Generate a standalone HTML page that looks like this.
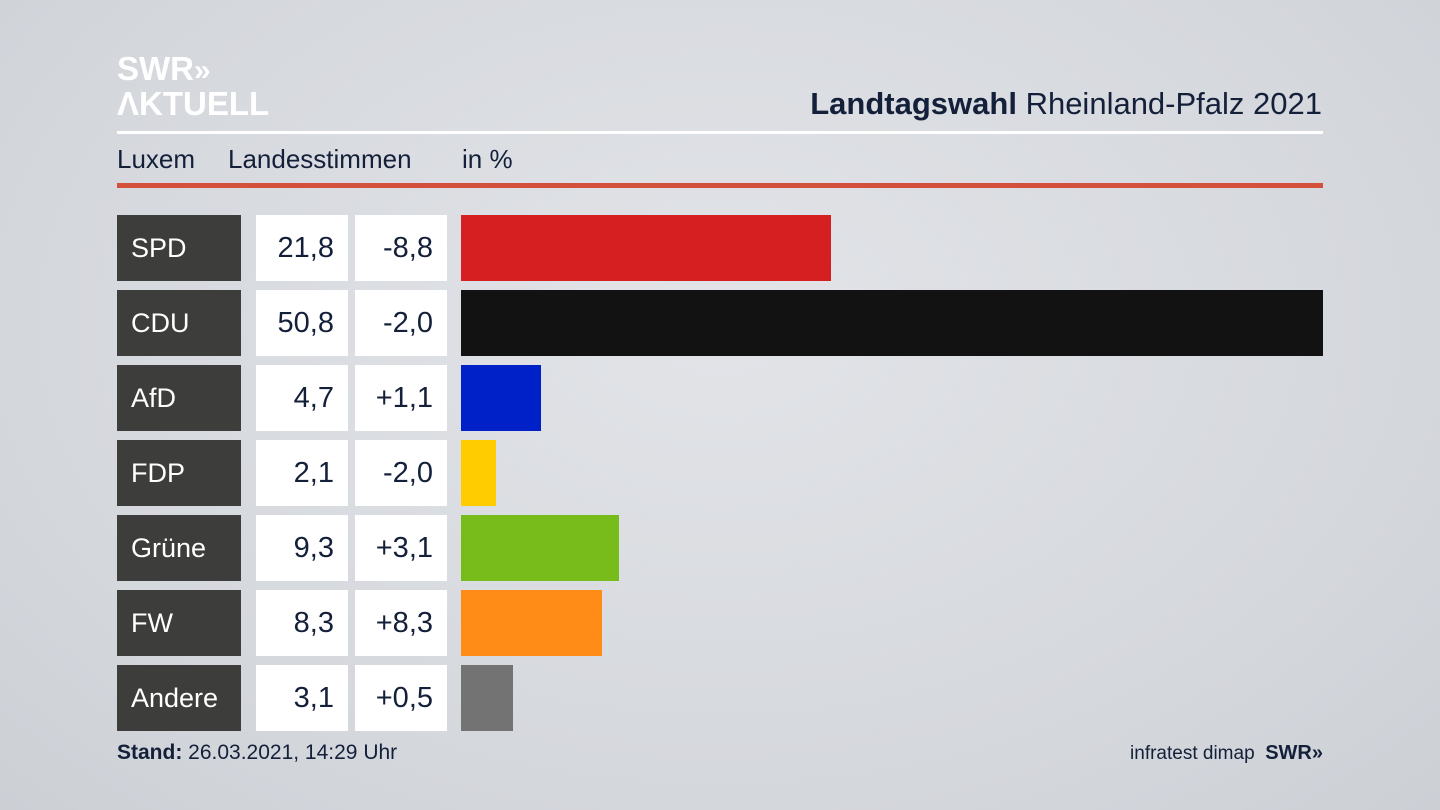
<!DOCTYPE html>
<html><head><meta charset="utf-8"><style>
body{margin:0;width:1440px;height:810px;overflow:hidden;background:radial-gradient(ellipse at 50% 40%,#e2e4e8 0%,#d4d7dc 70%,#ccd0d5 100%);font-family:"Liberation Sans",sans-serif;position:relative}
.a{position:absolute}
.lab{position:absolute;left:117px;width:124px;height:66px;background:#3d3d3c;color:#fff;font-size:27px;line-height:66px;box-sizing:border-box;padding-left:14px}
.v{position:absolute;height:66px;background:#fff;color:#14203a;font-size:29px;line-height:66px;text-align:right;box-sizing:border-box;padding-right:14px;width:92px}
.bar{position:absolute;left:461px;height:66px}
.s{position:absolute;top:144px;color:#14203a;font-size:26px}
</style></head><body>
<div class="a" style="left:117px;top:52px;color:#fff;font-weight:bold;font-size:33px;line-height:33px;letter-spacing:0px">SWR<span style="font-size:30px">»</span><br>ΛKTUELL</div>
<div class="a" style="right:118px;top:86px;color:#14203a;font-size:31px"><b>Landtagswahl</b> Rheinland-Pfalz 2021</div>
<div class="a" style="left:117px;top:131px;width:1206px;height:3px;background:#fff"></div>
<div class="s" style="left:117px">Luxem</div>
<div class="s" style="left:228px">Landesstimmen</div>
<div class="s" style="left:462px">in %</div>
<div class="a" style="left:117px;top:183px;width:1206px;height:5px;background:#d2503c"></div>

<div class="lab" style="top:215px">SPD</div><div class="v" style="left:256px;top:215px">21,8</div><div class="v" style="left:355px;top:215px">-8,8</div><div class="bar" style="top:215px;width:370px;background:#d51f20"></div>
<div class="lab" style="top:290px">CDU</div><div class="v" style="left:256px;top:290px">50,8</div><div class="v" style="left:355px;top:290px">-2,0</div><div class="bar" style="top:290px;width:862px;background:#121212"></div>
<div class="lab" style="top:365px">AfD</div><div class="v" style="left:256px;top:365px">4,7</div><div class="v" style="left:355px;top:365px">+1,1</div><div class="bar" style="top:365px;width:80px;background:#0020c8"></div>
<div class="lab" style="top:440px">FDP</div><div class="v" style="left:256px;top:440px">2,1</div><div class="v" style="left:355px;top:440px">-2,0</div><div class="bar" style="top:440px;width:35px;background:#ffcc00"></div>
<div class="lab" style="top:515px">Grüne</div><div class="v" style="left:256px;top:515px">9,3</div><div class="v" style="left:355px;top:515px">+3,1</div><div class="bar" style="top:515px;width:158px;background:#78bc1b"></div>
<div class="lab" style="top:590px">FW</div><div class="v" style="left:256px;top:590px">8,3</div><div class="v" style="left:355px;top:590px">+8,3</div><div class="bar" style="top:590px;width:141px;background:#ff8c16"></div>
<div class="lab" style="top:665px">Andere</div><div class="v" style="left:256px;top:665px">3,1</div><div class="v" style="left:355px;top:665px">+0,5</div><div class="bar" style="top:665px;width:52px;background:#737373"></div>

<div class="a" style="left:117px;top:741px;color:#14203a;font-size:21px"><b>Stand:</b> 26.03.2021, 14:29 Uhr</div>
<div class="a" style="right:117px;top:742px;color:#14203a;font-size:19px">infratest dimap&nbsp;&nbsp;<b style="font-size:20px">SWR»</b></div>
</body></html>
